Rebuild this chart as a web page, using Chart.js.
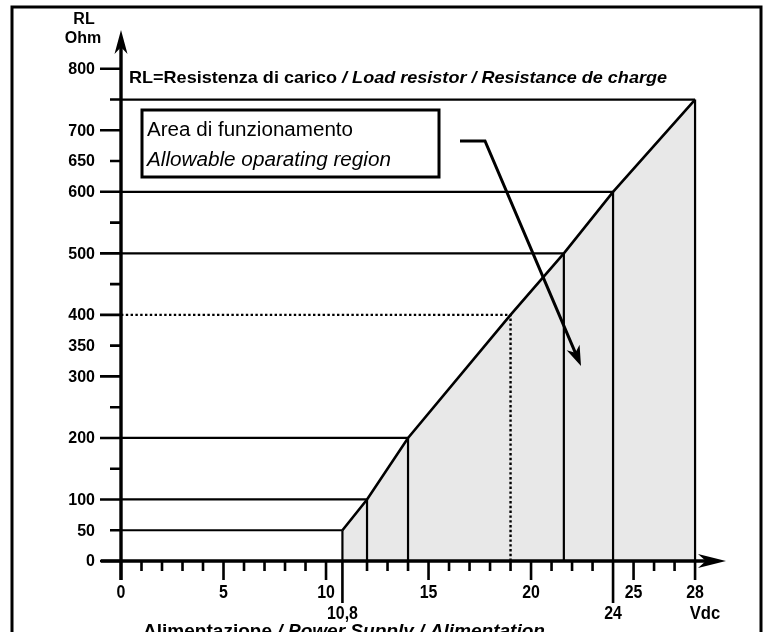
<!DOCTYPE html>
<html>
<head>
<meta charset="utf-8">
<script src="https://cdn.jsdelivr.net/npm/chart.js@4.4.1/dist/chart.umd.min.js"></script>
<style>
  html, body { margin: 0; padding: 0; background: #fff; }
  #wrap { width: 768px; height: 632px; }
</style>
</head>
<body>
<div id="wrap"><canvas id="chart" width="768" height="632"></canvas></div>
<script>
// upper limit of the load resistor for each supply voltage
const limitVdc = [10.8, 12, 14, 19, 21.6, 24, 28];
const limitOhm = [50, 100, 200, 400, 500, 600, 750];
// the worked example, drawn dotted
const exampleVdc = [19];

// axis ticks
const yMajorTicks = [0, 100, 200, 300, 400, 500, 600, 700, 800];
const yMinorTicks = [50, 150, 250, 350, 450, 550, 650, 750];
const yLabelValues = [0, 50, 100, 200, 300, 350, 400, 500, 600, 650, 700, 800];
const xMajorTicks = [0, 5, 10, 15, 20, 25, 28];
const xMinorTicks = [1, 2, 3, 4, 6, 7, 8, 9, 12, 13, 14, 16, 17, 18, 19, 21, 22, 23, 24, 26, 27];
const xMarkerTicks = [10.8, 24];
const xMarkerLabels = ["10,8", "24"];

const FACE = "'Liberation Sans', Arial, sans-serif";
const BOLD = "bold 16px " + FACE;

function segment(x1, y1, x2, y2, dashed) {
  return {
    type: "line",
    data: [{ x: x1, y: y1 }, { x: x2, y: y2 }],
    borderColor: "#000",
    borderWidth: dashed ? 2.4 : 2.2,
    borderDash: dashed ? [2.4, 2.4] : [],
    borderCapStyle: "butt",
    pointRadius: 0,
    fill: false,
    clip: false
  };
}

const guideSets = [];
limitVdc.forEach((v, i) => {
  const dotted = exampleVdc.includes(v);
  guideSets.push(segment(v, 0, v, limitOhm[i], dotted));
  guideSets.push(segment(0, limitOhm[i], v, limitOhm[i], dotted));
});

function arrowHead(ctx, tipX, tipY, angle, len, half) {
  ctx.save();
  ctx.translate(tipX, tipY);
  ctx.rotate(angle);
  ctx.beginPath();
  ctx.moveTo(0, 0);
  ctx.lineTo(-len, -half);
  ctx.lineTo(-len * 0.72, 0);
  ctx.lineTo(-len, half);
  ctx.closePath();
  ctx.fillStyle = "#000";
  ctx.fill();
  ctx.restore();
}

// text squeezed horizontally, to get the narrow face of the original
function squeezed(ctx, text, x, y, sx) {
  ctx.save();
  ctx.translate(x, y);
  ctx.scale(sx, 1);
  ctx.fillText(text, 0, 0);
  ctx.restore();
}

// a run of [font, text] parts fitted to a given width
function fittedRun(ctx, parts, x, y, width) {
  let total = 0;
  parts.forEach(([font, text]) => { ctx.font = font; total += ctx.measureText(text).width; });
  const sx = width / total;
  let cx = x;
  parts.forEach(([font, text]) => {
    ctx.font = font;
    squeezed(ctx, text, cx, y, sx);
    cx += ctx.measureText(text).width * sx;
  });
}

const diagram = {
  id: "diagram",
  afterDraw(chart) {
    const { ctx, scales } = chart;
    const x = scales.x, y = scales.y;
    const x0 = x.getPixelForValue(0), y0 = y.getPixelForValue(0);
    ctx.save();
    ctx.strokeStyle = "#000";
    ctx.fillStyle = "#000";

    // frame
    ctx.lineWidth = 3;
    ctx.strokeRect(12, 7, 749, 640);

    // axes
    ctx.lineWidth = 3.4;
    ctx.beginPath();
    ctx.moveTo(x0, y0 + 19);
    ctx.lineTo(x0, 40);
    ctx.moveTo(x0 - 20, y0);
    ctx.lineTo(714, y0);
    ctx.stroke();
    arrowHead(ctx, x0, 30, -Math.PI / 2, 24, 6.5);
    arrowHead(ctx, 726, y0, 0, 28, 7);

    // ticks
    ctx.lineWidth = 2.6;
    ctx.beginPath();
    yMajorTicks.forEach((v) => {
      const p = y.getPixelForValue(v);
      ctx.moveTo(x0 - 21, p);
      ctx.lineTo(x0, p);
    });
    yMinorTicks.forEach((v) => {
      const p = y.getPixelForValue(v);
      ctx.moveTo(x0 - 11, p);
      ctx.lineTo(x0, p);
    });
    xMajorTicks.forEach((v) => {
      const p = x.getPixelForValue(v);
      ctx.moveTo(p, y0);
      ctx.lineTo(p, y0 + 19);
    });
    xMinorTicks.forEach((v) => {
      const p = x.getPixelForValue(v);
      ctx.moveTo(p, y0);
      ctx.lineTo(p, y0 + 10);
    });
    xMarkerTicks.forEach((v) => {
      const p = x.getPixelForValue(v);
      ctx.moveTo(p, y0);
      ctx.lineTo(p, y0 + 42);
    });
    ctx.stroke();

    // tick labels
    ctx.font = BOLD;
    ctx.textAlign = "right";
    ctx.textBaseline = "middle";
    yLabelValues.forEach((v) => {
      ctx.fillText(String(v), x0 - 26, y.getPixelForValue(v) + 1);
    });
    ctx.font = "bold 18.5px " + FACE;
    ctx.textAlign = "center";
    xMajorTicks.forEach((v) => {
      squeezed(ctx, String(v), x.getPixelForValue(v), y0 + 31.5, 0.86);
    });
    xMarkerTicks.forEach((v, i) => {
      squeezed(ctx, xMarkerLabels[i], x.getPixelForValue(v), y0 + 52.5, 0.86);
    });
    squeezed(ctx, "Vdc", 705, y0 + 52.5, 0.9);

    // axis names
    ctx.font = BOLD;
    ctx.fillText("RL", 84, 20);
    ctx.fillText("Ohm", 83, 39);

    ctx.textAlign = "left";
    ctx.textBaseline = "alphabetic";
    fittedRun(ctx, [
      ["bold 18px " + FACE, "Alimentazione"],
      ["italic bold 18px " + FACE, " / Power Supply / Alimentation"]
    ], 143, 637, 402);

    // title
    ctx.textBaseline = "middle";
    fittedRun(ctx, [
      ["bold 16.5px " + FACE, "RL=Resistenza di carico"],
      ["italic bold 16.5px " + FACE, " / Load resistor / Resistance de charge"]
    ], 129, 78, 538);

    // legend box
    ctx.lineWidth = 3;
    ctx.strokeRect(142, 110, 297, 67);
    fittedRun(ctx, [["20px " + FACE, "Area di funzionamento"]], 147, 130, 206);
    fittedRun(ctx, [["italic 20px " + FACE, "Allowable oparating region"]], 147, 160, 244);

    // pointer into the area
    ctx.lineWidth = 3;
    ctx.beginPath();
    ctx.moveTo(460, 141);
    ctx.lineTo(485, 141);
    const ang = Math.atan2(366 - 141, 581 - 485);
    ctx.lineTo(581 - Math.cos(ang) * 14, 366 - Math.sin(ang) * 14);
    ctx.stroke();
    arrowHead(ctx, 581, 366, ang, 20, 7);

    ctx.restore();
  }
};

new Chart(document.getElementById("chart"), {
  type: "line",
  data: {
    datasets: [
      ...guideSets,
      {
        type: "line",
        data: limitVdc.map((v, i) => ({ x: v, y: limitOhm[i] })),
        borderColor: "#000",
        borderWidth: 2.6,
        backgroundColor: "#e8e8e8",
        fill: "origin",
        pointRadius: 0,
        tension: 0,
        clip: false
      }
    ]
  },
  options: {
    responsive: false,
    animation: false,
    devicePixelRatio: 1,
    layout: { padding: { left: 121, right: 43, top: 30, bottom: 71 } },
    plugins: { legend: { display: false }, tooltip: { enabled: false } },
    scales: {
      x: { type: "linear", display: false, min: 0, max: 29.46 },
      y: { type: "linear", display: false, min: 0, max: 863 }
    }
  },
  plugins: [diagram]
});
</script>
</body>
</html>
